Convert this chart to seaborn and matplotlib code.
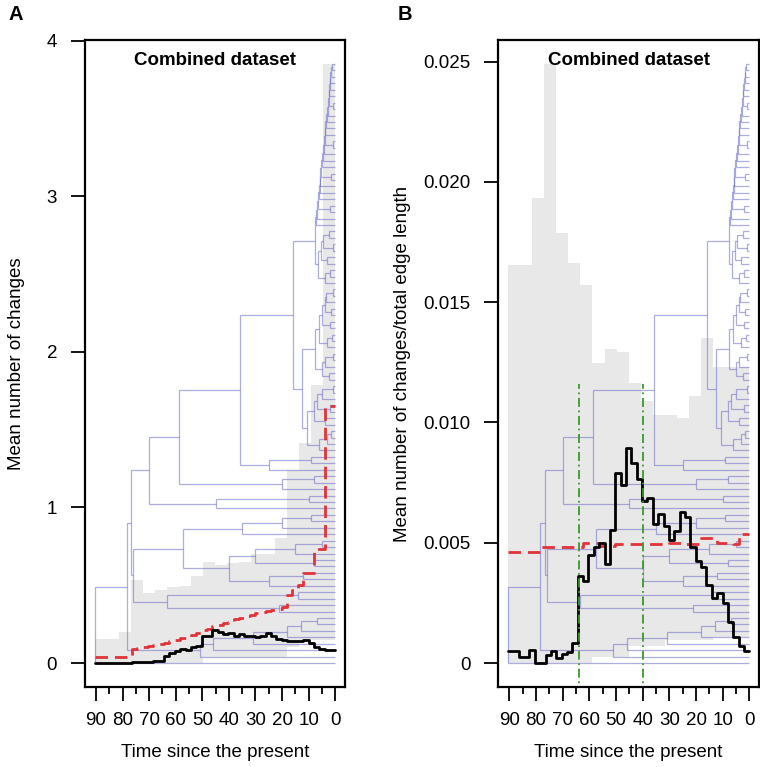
import numpy as np
import matplotlib.pyplot as plt
import seaborn as sns
from matplotlib.collections import LineCollection
from matplotlib.ticker import MultipleLocator, FixedLocator

sns.set_style("ticks")
plt.rcParams['font.family'] = ['Liberation Sans', 'DejaVu Sans']
plt.rcParams.update({'text.color': 'black', 'axes.labelcolor': 'black',
                     'xtick.color': 'black', 'ytick.color': 'black',
                     'axes.edgecolor': 'black'})

# ---------------------------------------------------------
# Data
# ---------------------------------------------------------
root_age = 90.5

# 20-bin envelope (oldest -> youngest)
upper_a = [0.154, 0.154, 0.197, 0.532, 0.447, 0.47, 0.489, 0.496, 0.56, 0.652,
           0.63, 0.645, 0.652, 0.699, 0.699, 0.806, 1.24, 1.415, 1.79, 3.85]
lower_a = [0, 0, 0, 0, 0, 0, 0, 0, 0, 0.04,
           0.04, 0.04, 0.04, 0.04, 0.04, 0.04, 0.1, 0.15, 0.15, 0.15]
upper_b = [0.01653, 0.01653, 0.01934, 0.0249, 0.01788, 0.01664, 0.0157, 0.01247, 0.01307, 0.01293,
           0.01162, 0.0109, 0.0103, 0.0103, 0.01017, 0.0111, 0.01349, 0.0123, 0.0123, 0.0123]
lower_b = [0, 0, 0, 0, 0, 0, 0, 0.00025, 0.00025, 0.00025,
           0.0007, 0.0007, 0.0007, 0.00094, 0.00094, 0.00094, 0.00094, 0.00108, 0.00108, 0.00108]

# 45-bin observed (black) and expected (red) series
obs_a = [0, 0, 0, 0, 0, 0.002, 0.003, 0.005, 0.005, 0.006,
         0.008, 0.01, 0.012, 0.047, 0.062, 0.077, 0.09, 0.087, 0.10, 0.11,
         0.175, 0.175, 0.214, 0.201, 0.186, 0.19, 0.175, 0.186, 0.175, 0.175,
         0.165, 0.175, 0.192, 0.175, 0.154, 0.15, 0.143, 0.143, 0.14, 0.148,
         0.13, 0.10, 0.092, 0.086, 0.083]
exp_a = [0.04, 0.04, 0.04, 0.04, 0.04, 0.04, 0.04, 0.09, 0.095, 0.10,
         0.11, 0.115, 0.125, 0.13, 0.14, 0.15, 0.16, 0.17, 0.18, 0.19,
         0.21, 0.22, 0.235, 0.245, 0.255, 0.265, 0.28, 0.29, 0.30, 0.31,
         0.32, 0.33, 0.335, 0.34, 0.345, 0.36, 0.44, 0.47, 0.50, 0.58,
         0.58, 0.73, 0.73, 1.65, 1.65]
obs_b = [0.00048, 0.00048, 0.00025, 0.00025, 0.00053, 0, 0, 0.00035, 0.00048, 0.0002,
         0.00039, 0.00044, 0.00083, 0.00362, 0.00339, 0.0045, 0.00484, 0.00498, 0.00412, 0.00553,
         0.00791, 0.0074, 0.00892, 0.00833, 0.00764, 0.00675, 0.00687, 0.00577, 0.00618, 0.0057,
         0.00512, 0.00549, 0.00629, 0.00609, 0.00484, 0.00426, 0.00401, 0.00325, 0.0027, 0.0029,
         0.00249, 0.00169, 0.00108, 0.00069, 0.00048]
exp_b = [0.00463, 0.00463, 0.00463, 0.00463, 0.00463, 0.00463, 0.00484, 0.00484, 0.00484, 0.00484,
         0.00484, 0.00484, 0.00484, 0.00484, 0.005, 0.005, 0.005, 0.00487, 0.00487, 0.00487,
         0.00495, 0.00495, 0.00495, 0.00495, 0.00495, 0.00495, 0.00495, 0.00495, 0.00495, 0.00495,
         0.005, 0.005, 0.005, 0.00495, 0.00495, 0.00495, 0.00519, 0.00519, 0.00519, 0.005,
         0.005, 0.005, 0.00495, 0.00537, 0.00537]

green_ages = [64, 40]
green_top = 0.0116


# ---------------------------------------------------------
# Phylogeny (node = [age, lower child, upper child], tip = 0)
# ---------------------------------------------------------
def ladder(steps, top):
    node = top
    for age, side in reversed(steps):
        node = [age, side, node]
    return node


clade_b = ladder([(51, 0), (46, 0), (31, 0), (18, 0), (13, 0)], [7, 0, 0])
clade_f = [63.4, [21, 0, 0], [14, 0, 0]]
clade_g = [57.4,
           [40, [25, 0, [12, 0, 0]], [30, [8, 0, 0], [15, 0, [5, 0, 0]]]],
           [35, 0, [20, 0, [9, 0, 0]]]]
clade_h = [45, 0, [10, 0, 0]]
clade_j = [20, 0, [8, 0, 0]]
clade_l = [25, 0, [9, 0, 0]]
clade_n1 = [10.5, [6, 0, [3, 0, [1.5, 0, 0]]],
            [8, [4, 0, 0], [7, [2, 0, 0], [5, 0, [1, 0, 0]]]]]
clade_n2 = [7.6, [5, [2.5, 0, 0], [4, 0, [1, 0, 0]]],
            [6, [3, 0, [1.2, 0, 0]], [5, [2, 0, 0], [4, [1.5, 0, 0], [3.5, 0, [0.8, 0, 0]]]]]]
clade_o1 = [6.5, [4, 0, [2, 0, 0]], [5.5, [3, 0, 0], [4.5, [1, 0, 0], [2.5, 0, 0]]]]
clade_o2 = ladder([(7.2, 0), (6.9, 0), (6.6, [2, 0, 0]), (6.2, 0), (5.9, 0), (5.6, 0),
                   (5.2, [1.5, 0, 0]), (4.9, 0), (4.6, 0), (4.3, 0), (4.0, [1, 0, 0]),
                   (3.7, 0), (3.4, 0), (3.1, 0), (2.8, 0), (2.5, [0.8, 0, 0]), (2.2, 0),
                   (2.0, 0), (1.8, 0), (1.6, 0)], [1.4, 0, 0])

tree = [root_age, 0,
        [78.4, clade_b,
         [76.8,
          [75.9, clade_f, clade_g],
          [69.9, clade_h,
           [58.8, clade_j,
            [35.8, clade_l,
             [15.8, [12.6, clade_n1, clade_n2], [7.6, clade_o1, clade_o2]]]]]]]]


def walk(node, parent_age, out, count):
    if node == 0:
        y = count[0]
        count[0] += 1
        out['h'].append((0, parent_age, y))
        return y
    age = node[0]
    ys = [walk(c, age, out, count) for c in node[1:]]
    y = (ys[0] + ys[-1]) / 2
    out['v'].append((age, ys[0], ys[-1]))
    if parent_age is not None:
        out['h'].append((age, parent_age, y))
    return y


segs = {'h': [], 'v': []}
ntip = [0]
walk(tree, None, segs, ntip)
ntip = ntip[0]


def draw_tree(ax, ymax):
    k = ymax / (ntip - 1)
    lines = [[(a0, y * k), (a1, y * k)] for a0, a1, y in segs['h']]
    lines += [[(a, y0 * k), (a, y1 * k)] for a, y0, y1 in segs['v']]
    ax.add_collection(LineCollection(lines, colors=[(0.42, 0.42, 0.78, 0.55)],
                                     linewidths=0.9, zorder=2))


def step(vals):
    edges = np.linspace(root_age, 0, len(vals) + 1)
    return edges, np.append(vals, vals[-1])


def panel(ax, upper, lower, obs, exp, ylim):
    x, up = step(upper)
    _, lo = step(lower)
    ax.fill_between(x, lo, up, step='post', color='#e8e8e8', lw=0, zorder=1)
    draw_tree(ax, max(upper))
    x, y = step(exp)
    sns.lineplot(x=x, y=y, sort=False, drawstyle='steps-post', color='#e0333a',
                 lw=2, linestyle=(0, (4.5, 2.5)), ax=ax, zorder=4)
    x, y = step(obs)
    sns.lineplot(x=x, y=y, sort=False, drawstyle='steps-post', color='black',
                 lw=2, ax=ax, zorder=5)
    ax.set_xlim(root_age * 1.04, -root_age * 0.04)
    ax.set_ylim(ylim)
    ax.xaxis.set_major_locator(MultipleLocator(10))
    ax.xaxis.set_minor_locator(MultipleLocator(5))
    ax.tick_params(axis='x', which='major', length=10, width=1.3, labelsize=13.5, pad=8)
    ax.tick_params(axis='x', which='minor', length=5, width=1.3)
    ax.tick_params(axis='y', length=10, width=1.3, labelsize=13.5, pad=10)
    for s in ax.spines.values():
        s.set_linewidth(1.6)
        s.set_visible(True)
    ax.text(0.5, 0.969, "Combined dataset", transform=ax.transAxes, ha='center',
            va='center', fontsize=13.5, fontweight='bold')
    ax.set_xlabel("Time since the present", fontsize=13.5)
    ax.xaxis.set_label_coords(0.5, -0.088)


fig = plt.figure(figsize=(7.6, 7.67), dpi=100)
ax_a = fig.add_axes([0.1118, 0.1043, 0.342, 0.8435])
ax_b = fig.add_axes([0.6557, 0.1043, 0.343, 0.8435])

panel(ax_a, upper_a, lower_a, obs_a, exp_a, (-0.04 * 3.85, 3.85 * 1.04))
ax_a.yaxis.set_major_locator(FixedLocator([0, 1, 2, 3, 4]))
ax_a.set_ylabel("Mean number of changes", fontsize=13.5)
ax_a.yaxis.set_label_coords(-0.23, 0.5)

panel(ax_b, upper_b, lower_b, obs_b, exp_b, (-0.04 * 0.0249, 0.0249 * 1.04))
ax_b.set_yticks([0, 0.005, 0.010, 0.015, 0.020, 0.025])
ax_b.set_yticklabels(["0", "0.005", "0.010", "0.015", "0.020", "0.025"])
ax_b.set_ylabel("Mean number of changes/total edge length", fontsize=13.5)
ax_b.yaxis.set_label_coords(-0.335, 0.5)
for g in green_ages:
    ax_b.plot([g, g], [-1, green_top], color='#3a9a2a', lw=1.3,
              linestyle=(0, (5, 2, 1, 2)), zorder=6)

fig.text(16 / 760, 1 - 14 / 767, "A", ha='center', va='center', fontsize=14.5, fontweight='bold')
fig.text(405 / 760, 1 - 14 / 767, "B", ha='center', va='center', fontsize=14.5, fontweight='bold')

fig.savefig("out.png", dpi=100)
